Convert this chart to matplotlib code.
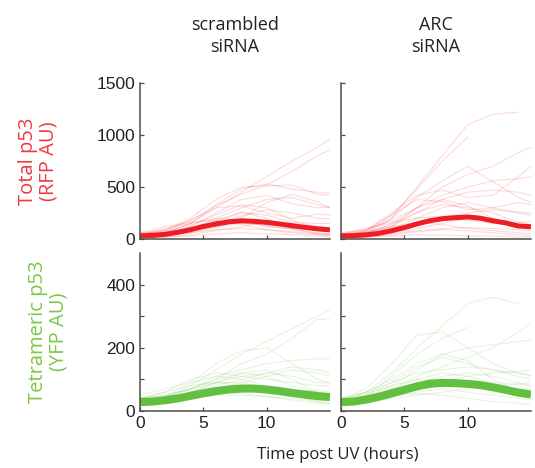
import numpy as np
import matplotlib.pyplot as plt

nan = np.nan

# time grids (hours post UV)
t_cells = [0, 2, 4, 6, 8, 10, 12, 14, 15]
t_mean = list(range(16))

# single-cell traces, total p53 (RFP), scrambled siRNA
rfp_scr = [
    [40, 60, 150, 300, 450, 600, 750, 880, 960],
    [50, 80, 180, 320, 430, 520, 650, 800, 860],
    [30, 60, 150, 330, 480, 530, 480, 450, 440],
    [60, 90, 200, 380, 500, 510, 520, 430, 420],
    [20, 40, 120, 250, 380, 420, 340, 300, 310],
    [30, 50, 100, 200, 300, 380, 400, 330, 300],
    [50, 80, 180, 300, 320, 250, 200, 240, 230],
    [20, 40, 90, 150, 220, 280, 250, 200, 190],
    [40, 100, 150, 200, 180, 120, 100, 110, 100],
    [30, 50, 80, 120, 150, 130, 90, 60, 50],
    [20, 30, 70, 180, 260, 200, 100, 50, 40],
    [60, 120, 160, 180, 140, 90, 60, 40, 30],
    [10, 20, 40, 80, 120, 160, 150, 120, 110],
    [20, 30, 60, 110, 200, 350, 430, 360, 300],
    [30, 40, 60, 90, 100, 90, 70, 50, 40],
    [50, 70, 130, 230, 330, 300, 180, 110, 80],
    [10, 20, 30, 50, 60, 50, 40, 30, 20],
    [40, 60, 110, 170, 250, 230, 160, 150, 150],
]

# total p53 (RFP), ARC siRNA
rfp_arc = [
    [30, 50, 200, 500, 800, 1100, 1200, 1220, nan],
    [40, 80, 230, 480, 750, 980, nan, nan, nan],
    [20, 40, 120, 300, 500, 620, 700, 830, 880],
    [30, 70, 200, 400, 560, 700, 550, 400, 350],
    [50, 90, 250, 420, 470, 400, 420, 600, 700],
    [20, 50, 150, 300, 420, 500, 560, 580, 600],
    [40, 60, 120, 250, 380, 450, 470, 450, 420],
    [30, 80, 230, 380, 360, 280, 300, 350, 330],
    [20, 40, 100, 200, 300, 350, 300, 250, 230],
    [60, 100, 160, 200, 220, 250, 280, 260, 250],
    [30, 50, 100, 150, 200, 180, 150, 160, 170],
    [20, 30, 60, 100, 150, 200, 180, 120, 100],
    [40, 70, 120, 160, 140, 100, 80, 60, 50],
    [10, 20, 40, 70, 90, 80, 60, 40, 30],
    [50, 90, 180, 300, 380, 320, 200, 120, 100],
    [20, 30, 50, 80, 100, 110, 100, 90, 80],
    [30, 60, 140, 260, 330, 300, 250, 160, 140],
    [10, 20, 30, 40, 40, 30, 30, 20, 20],
]

# tetrameric p53 (YFP), scrambled siRNA
yfp_scr = [
    [30, 40, 80, 130, 180, 220, 260, 300, 320],
    [40, 50, 70, 100, 150, 180, 230, 290, 290],
    [30, 45, 90, 150, 190, 200, 150, 100, 90],
    [30, 40, 70, 110, 130, 150, 160, 165, 165],
    [40, 60, 100, 120, 110, 120, 140, 130, 120],
    [20, 35, 60, 90, 110, 100, 90, 80, 80],
    [30, 40, 60, 80, 100, 120, 110, 90, 90],
    [40, 50, 70, 90, 90, 70, 50, 30, 25],
    [20, 30, 50, 70, 80, 70, 60, 50, 50],
    [30, 40, 50, 60, 55, 45, 35, 25, 20],
    [20, 30, 60, 90, 120, 130, 100, 60, 40],
    [40, 60, 80, 90, 80, 70, 60, 65, 60],
    [30, 35, 50, 70, 90, 110, 130, 120, 110],
    [20, 25, 40, 50, 50, 45, 40, 30, 25],
    [50, 70, 90, 110, 100, 80, 70, 60, 55],
    [30, 45, 70, 100, 120, 110, 80, 60, 50],
]

# tetrameric p53 (YFP), ARC siRNA
yfp_arc = [
    [30, 60, 120, 200, 270, 340, 360, 340, nan],
    [40, 70, 150, 240, 250, 200, 150, 120, 110],
    [30, 50, 110, 180, 230, 265, nan, nan, nan],
    [30, 40, 70, 110, 140, 170, 200, 250, 275],
    [25, 45, 80, 130, 180, 200, 210, 220, 225],
    [30, 50, 90, 140, 170, 150, 130, 120, 115],
    [40, 60, 90, 120, 130, 140, 130, 110, 100],
    [20, 35, 60, 90, 110, 120, 110, 90, 80],
    [30, 40, 60, 80, 90, 85, 75, 70, 65],
    [20, 30, 45, 60, 70, 60, 50, 40, 35],
    [40, 55, 80, 100, 100, 90, 80, 70, 70],
    [25, 35, 50, 70, 90, 110, 120, 125, 130],
    [30, 40, 50, 55, 50, 40, 30, 25, 20],
    [35, 60, 100, 150, 180, 160, 100, 60, 50],
    [20, 30, 40, 50, 60, 70, 80, 85, 90],
    [30, 50, 70, 100, 120, 110, 90, 85, 80],
]

# population means
rfp_scr_mean = [30, 35, 45, 65, 90, 120, 145, 165, 175, 170, 160, 145, 128, 112, 98, 88]
rfp_arc_mean = [30, 32, 40, 55, 80, 110, 145, 175, 195, 205, 212, 200, 175, 155, 125, 118]
yfp_scr_mean = [28, 30, 34, 40, 48, 56, 63, 68, 71, 71, 68, 63, 57, 52, 47, 44]
yfp_arc_mean = [28, 30, 36, 45, 56, 67, 78, 86, 89, 88, 86, 82, 75, 67, 58, 52]

col_titles = ['scrambled\nsiRNA', 'ARC\nsiRNA']

red = '#ee1c25'
green = '#62bf3f'
spine_c = '#4d4d4d'

fig = plt.figure(figsize=(5.35, 4.68), dpi=100)
lefts = [0.2617, 0.6374]
w = 0.355
axes = [
    [fig.add_axes([lefts[0], 0.4893, w, 0.3333]), fig.add_axes([lefts[1], 0.4893, w, 0.3333])],
    [fig.add_axes([lefts[0], 0.1218, w, 0.3376]), fig.add_axes([lefts[1], 0.1218, w, 0.3376])],
]

panels = [
    [(rfp_scr, rfp_scr_mean), (rfp_arc, rfp_arc_mean)],
    [(yfp_scr, yfp_scr_mean), (yfp_arc, yfp_arc_mean)],
]

for r in range(2):
    color = red if r == 0 else green
    mean_lw = 3.6 if r == 0 else 5.8
    for c in range(2):
        ax = axes[r][c]
        cells, mean = panels[r][c]
        for tr in cells:
            ax.plot(t_cells, tr, color=color, lw=0.8, alpha=0.16, solid_capstyle='round')
        ax.plot(t_mean, mean, color=color, lw=mean_lw, solid_capstyle='butt')
        ax.set_xlim(0, 15)
        for s in ['top', 'right']:
            ax.spines[s].set_visible(False)
        for s in ['left', 'bottom']:
            ax.spines[s].set_color(spine_c)
            ax.spines[s].set_linewidth(1.1)
        ax.tick_params(direction='in', length=3, width=0.9, color=spine_c,
                       labelsize=12.5, labelcolor='#222222')
        ax.set_xticks([0, 5, 10])
        if r == 0:
            ax.set_ylim(0, 1500)
            ax.set_yticks([0, 500, 1000, 1500])
            ax.set_xticklabels([])
        else:
            ax.set_ylim(0, 500)
            ax.set_yticks([0, 100, 200, 300, 400])
            ax.set_yticklabels(['0', '', '200', '', '400'])
        if c == 1:
            ax.set_yticklabels([])
        for lab in ax.get_xticklabels() + ax.get_yticklabels():
            lab.set_family('Liberation Sans')

for c in range(2):
    axes[0][c].set_title(col_titles[c], fontsize=13, family='Open Sans',
                         color='#222222', pad=22, linespacing=1.3)

axes[0][0].set_ylabel('Total p53\n(RFP AU)', fontsize=14.5, family='Open Sans',
                      color='#f03a40', labelpad=27, linespacing=1.05)
axes[1][0].set_ylabel('Tetrameric p53\n(YFP AU)', fontsize=14.5, family='Open Sans',
                      color='#7ac943', labelpad=27, linespacing=1.05)

fig.text(0.632, 0.027, 'Time post UV (hours)', ha='center', va='center',
         fontsize=12, family='Open Sans', color='#222222')

fig.savefig('out.png', dpi=100)
